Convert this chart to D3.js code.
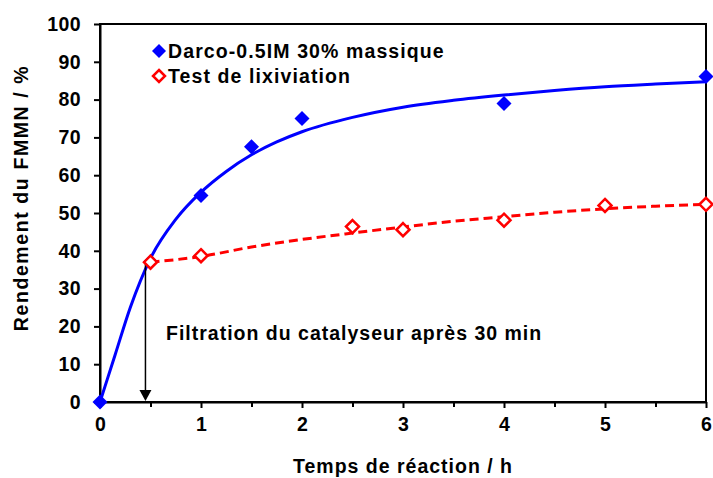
<!DOCTYPE html>
<html><head><meta charset="utf-8">
<script src="https://cdn.jsdelivr.net/npm/d3@7"></script>
<style>body{margin:0;background:#fff}text{font-family:"Liberation Sans",Arial,sans-serif;font-weight:bold}</style>
</head><body><svg id="c" width="713" height="478"></svg>
<script>
// data
const darcoT = [0, 0.5, 1, 1.5, 2, 4, 6];
const darcoY = [0, 37.1, 54.6, 67.5, 75.0, 79.0, 86.1];
const lixT = [0.5, 1, 2.5, 3, 4, 5, 6];
const lixY = [37.0, 38.7, 46.4, 45.6, 48.1, 52.0, 52.3];
// fitted trend curves
const fitDarcoT = [0, 0.15, 0.3, 0.5, 0.75, 1.0, 1.25, 1.5, 1.75, 2.0, 2.5, 3.0, 3.5, 4.0, 4.5, 5.0, 5.5, 6];
const fitDarcoY = [0, 12.5, 25.0, 38.0, 48.3, 55.5, 61.0, 65.4, 68.8, 71.5, 75.3, 78.0, 79.8, 81.2, 82.4, 83.4, 84.1, 84.7];
const fitLixT = [0.5, 1, 1.5, 2, 2.5, 3, 3.5, 4, 4.5, 5, 5.5, 6];
const fitLixY = [37.0, 38.5, 41.0, 43.0, 44.7, 46.3, 47.8, 49.0, 50.2, 51.1, 51.8, 52.3];
const xTicks = [0, 1, 2, 3, 4, 5, 6];
const yTicks = [0, 10, 20, 30, 40, 50, 60, 70, 80, 90, 100];
const legendLabels = ["Darco-0.5IM 30% massique", "Test de lixiviation"];
const annotation = "Filtration du catalyseur après 30 min";
const filtrationT = 0.45;

const svg = d3.select("#c");
const L = 100, R = 706, T = 24, B = 402;
const x = d3.scaleLinear().domain([0, 6]).range([L, R]);
const y = d3.scaleLinear().domain([0, 100]).range([B, T]);
const FS = 19.5;

// frame
svg.append("rect").attr("x", L).attr("y", T).attr("width", R - L).attr("height", B - T)
  .attr("fill", "none").attr("stroke", "#000").attr("stroke-width", 2);

// axes
const xAxis = svg.append("g").attr("transform", `translate(0,${B})`)
  .call(d3.axisBottom(x).tickValues(xTicks).tickFormat(d3.format("d")).tickSize(6).tickSizeOuter(0));
svg.append("g").attr("transform", `translate(0,${B})`)
  .call(d3.axisBottom(x).tickValues(d3.range(0.5, 6, 1)).tickFormat("").tickSize(5).tickSizeOuter(0))
  .call(g => g.select(".domain").remove());
const yAxis = svg.append("g").attr("transform", `translate(${L},0)`)
  .call(d3.axisLeft(y).tickValues(yTicks).tickFormat(d3.format("d")).tickSize(6).tickSizeOuter(0));
svg.selectAll(".domain").attr("stroke", "#000").attr("stroke-width", 2);
svg.selectAll(".tick line").attr("stroke", "#000").attr("stroke-width", 2);
xAxis.selectAll("text").attr("font-size", FS).attr("fill", "#000").attr("dy", "0.71em").attr("y", 15);
yAxis.selectAll("text").attr("font-size", FS).attr("fill", "#000").attr("x", -19).attr("letter-spacing", 0.4);

// axis titles
svg.append("text").attr("x", 403).attr("y", 473).attr("text-anchor", "middle")
  .attr("font-size", FS).attr("letter-spacing", 1).text("Temps de réaction / h");
svg.append("text").attr("transform", "translate(28,198) rotate(-90)").attr("text-anchor", "middle")
  .attr("font-size", FS).attr("letter-spacing", 1.6).text("Rendement du FMMN / %");

// curves
const line = d3.line().x(d => x(d[0])).y(d => y(d[1])).curve(d3.curveMonotoneX);
svg.append("path").datum(d3.zip(fitDarcoT, fitDarcoY)).attr("d", line)
  .attr("fill", "none").attr("stroke", "#0000ff").attr("stroke-width", 3);
svg.append("path").datum(d3.zip(fitLixT, fitLixY)).attr("d", line)
  .attr("fill", "none").attr("stroke", "#ff0000").attr("stroke-width", 3).attr("stroke-dasharray", "9,5");

// arrow
svg.append("line").attr("x1", x(filtrationT)).attr("x2", x(filtrationT))
  .attr("y1", y(36.5)).attr("y2", B - 8).attr("stroke", "#000").attr("stroke-width", 1.5);
svg.append("path").attr("d", `M${x(filtrationT)-6},${B-12}L${x(filtrationT)+6},${B-12}L${x(filtrationT)},${B-1}Z`).attr("fill", "#000");

// markers
const diamond = s => `M0,${-s}L${s},0L0,${s}L${-s},0Z`;
svg.append("g").selectAll("path").data(d3.zip(darcoT, darcoY)).join("path")
  .attr("transform", d => `translate(${x(d[0])},${y(d[1])})`).attr("d", diamond(7.5)).attr("fill", "#0000ff");
svg.append("g").selectAll("path").data(d3.zip(lixT, lixY)).join("path")
  .attr("transform", d => `translate(${x(d[0])},${y(d[1])})`).attr("d", diamond(6.5))
  .attr("fill", "#fff").attr("stroke", "#ff0000").attr("stroke-width", 2.5);

// annotation
svg.append("text").attr("x", 166).attr("y", 340).attr("font-size", FS).attr("letter-spacing", 1).text(annotation);

// legend
const lg = svg.append("g");
lg.append("path").attr("transform", "translate(159,51)").attr("d", diamond(7)).attr("fill", "#0000ff");
lg.append("path").attr("transform", "translate(159,76)").attr("d", diamond(6))
  .attr("fill", "#fff").attr("stroke", "#ff0000").attr("stroke-width", 2.5);
lg.append("text").attr("x", 168).attr("y", 58).attr("font-size", FS).attr("letter-spacing", 1.1).text(legendLabels[0]);
lg.append("text").attr("x", 168).attr("y", 83).attr("font-size", FS).attr("letter-spacing", 1.1).text(legendLabels[1]);
</script></body></html>
